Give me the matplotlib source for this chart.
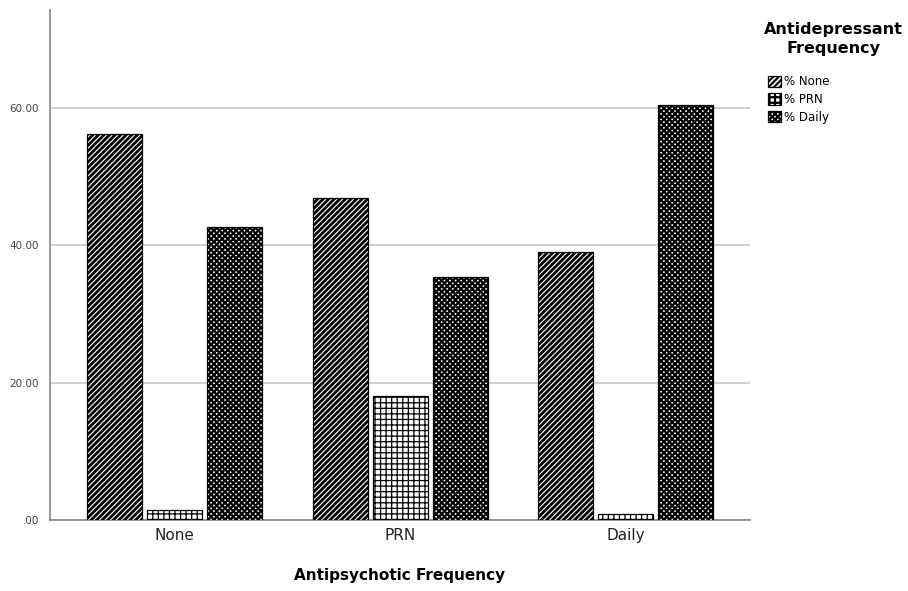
import matplotlib
matplotlib.use("Agg")
import matplotlib.pyplot as plt
import numpy as np

categories = ["None", "PRN", "Daily"]
series_names = ["% None", "% PRN", "% Daily"]
pct_none = [56.2, 46.9, 39.0]
pct_prn = [1.4, 18.1, 0.9]
pct_daily = [42.7, 35.4, 60.4]
yticks = [0, 20, 40, 60]
ytick_labels = [".00", "20.00", "40.00", "60.00"]

fig = plt.figure(figsize=(9.08, 5.91), dpi=100)
ax = fig.add_axes([50/908, 1-520/591, 700/908, 510/591])

x = np.arange(len(categories))
w = 0.244
step = 0.266
hatches = ["//////", "+++", "xxxxxx"]
hatch_lws = [2.0, 0.9, 1.6]
series = [pct_none, pct_prn, pct_daily]
handles = []
for i, (vals, h, name) in enumerate(zip(series, hatches, series_names)):
    plt.rcParams['hatch.linewidth'] = hatch_lws[i]
    b = ax.bar(x + (i-1)*step, vals, width=w, color="white", edgecolor="black",
               hatch=h, linewidth=0.9, label=name, zorder=3)
    handles.append(b)

ax.set_xlim(-0.554, 2.55)
ax.set_ylim(0, 74.3)
ax.set_yticks(yticks)
ax.set_yticklabels(ytick_labels, fontsize=7.5, color="#444444")
ax.set_xticks(x)
ax.set_xticklabels(categories, fontsize=11, color="#222222")
ax.tick_params(axis='both', length=0, pad=6)
ax.tick_params(axis='y', pad=8)
ax.yaxis.grid(True, color="#c8c8c8", linewidth=1.2, zorder=0)
ax.set_axisbelow(True)
for s in ["top", "right"]:
    ax.spines[s].set_visible(False)
ax.spines["left"].set_color("#888888")
ax.spines["bottom"].set_color("#888888")
ax.spines["left"].set_linewidth(1.2)
ax.spines["bottom"].set_linewidth(1.2)
ax.set_xlabel("Antipsychotic Frequency", fontsize=11, fontweight="bold", labelpad=18)

fig.text(833/908, 1-22/591, "Antidepressant\nFrequency", ha="center", va="top",
         fontsize=11.5, fontweight="bold", multialignment="center", linespacing=1.3)
leg = fig.legend(handles=handles, labels=series_names, loc="upper left",
                 bbox_to_anchor=(760/908, 1-67/591), frameon=False,
                 fontsize=8.5, borderpad=0.2,
                 handlelength=1.1, handleheight=1.1, handletextpad=0.25,
                 labelspacing=0.4)

fig.savefig("out.png", dpi=100)
